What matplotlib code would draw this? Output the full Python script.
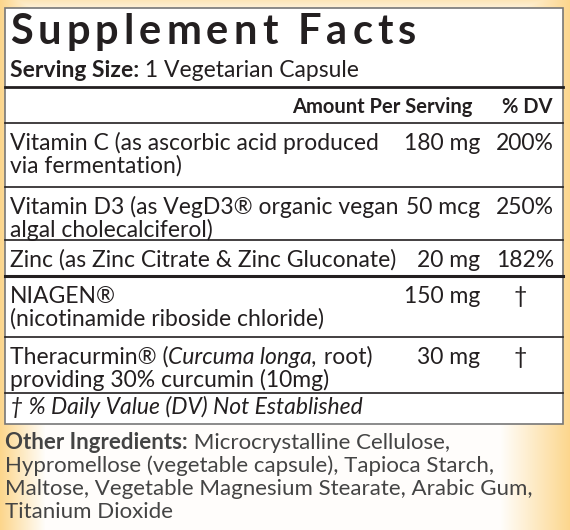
import numpy as np
import matplotlib.pyplot as plt

FONT = "Lato"
title = "Supplement Facts"
serving = [("Serving Size:", "bold"), (" 1 Vegetarian Capsule", "normal")]
nutrients = [
    ["Vitamin C (as ascorbic acid produced", "via fermentation)"],
    ["Vitamin D3 (as VegD3® organic vegan", "algal cholecalciferol)"],
    ["Zinc (as Zinc Citrate & Zinc Gluconate)"],
    ["NIAGEN®", "(nicotinamide riboside chloride)"],
    ["Theracurmin® (|Curcuma longa,| root)", "providing 30% curcumin (10mg)"],
]
amounts = ["180 mg", "50 mcg", "20 mg", "150 mg", "30 mg"]
dvs = ["200%", "250%", "182%", "†", "†"]
row_top = [123, 187, 240, 276, 337]
other = ["Microcrystalline Cellulose,",
         "Hypromellose (vegetable capsule), Tapioca Starch,",
         "Maltose, Vegetable Magnesium Stearate, Arabic Gum,",
         "Titanium Dioxide"]

fig = plt.figure(figsize=(5.7, 5.3), dpi=100)
ax = fig.add_axes([0, 0, 1, 1])
ax.set_xlim(0, 570)
ax.set_ylim(530, 0)
ax.axis("off")

# warm gradient background, strongest at the left and right edges
yy, xx = np.mgrid[0:530, 0:570]
d = np.minimum.reduce([xx / 45.0, (570 - xx) / 70.0, yy / 25.0 + 0.4])
d = np.clip(d, 0, 1)
edge = np.array([0.99, 0.84, 0.55])
mid = np.array([1.0, 0.995, 0.985])
img = edge * (1 - d[..., None]) + mid * d[..., None]
ax.imshow(img, extent=(0, 570, 530, 0), zorder=0, aspect="auto")

ax.add_patch(plt.Rectangle((5, 8), 558, 416, facecolor="white",
                           edgecolor="#777777", lw=1.2, zorder=1))

fig.canvas.draw()
r = fig.canvas.get_renderer()
inv = ax.transData.inverted()


def seg_text(x, y, segs, size, spacing=0.0, color="#231f20"):
    for s, style in segs:
        for piece in ([s] if spacing == 0 else list(s)):
            t = ax.text(x, y, piece, fontsize=size, family=FONT,
                        weight="bold" if style == "bold" else "normal",
                        style="italic" if style == "italic" else "normal",
                        va="baseline", ha="left", color=color, zorder=3)
            bb = t.get_window_extent(r)
            x = inv.transform((bb.x1, bb.y0))[0] + spacing
    return x


seg_text(10, 44, [(title, "bold")], 30, spacing=5)
seg_text(10, 77, serving, 16.5)
ax.plot([5, 563], [87, 87], color="#231f20", lw=2, zorder=2)
ax.text(472, 113, "Amount Per Serving", fontsize=14.5, family=FONT, weight="bold",
        ha="right", va="baseline", color="#231f20", zorder=3)
ax.text(553, 113, "% DV", fontsize=14.5, family=FONT, weight="bold",
        ha="right", va="baseline", color="#231f20", zorder=3)

for i, lines in enumerate(nutrients):
    top = row_top[i]
    ax.plot([5, 563], [top, top], color="#231f20", lw=1.2, zorder=2)
    for j, ln in enumerate(lines):
        parts = ln.split("|")
        segs = [(p, "italic" if k % 2 else "normal") for k, p in enumerate(parts)]
        seg_text(10, top + 27 + 23 * j, segs, 16.5)
    ax.text(480, top + 27, amounts[i], fontsize=16.5, family=FONT,
            ha="right", va="baseline", color="#231f20", zorder=3)
    ax.text(554 if dvs[i] != "†" else 527, top + 27, dvs[i], fontsize=16.5,
            family=FONT, ha="right", va="baseline", color="#231f20", zorder=3)
ax.plot([5, 563], [276, 276], color="#231f20", lw=2.2, zorder=2)
ax.plot([5, 563], [393, 393], color="#231f20", lw=1.2, zorder=2)
seg_text(10, 414, [("† % Daily Value (DV) Not Established", "italic")], 16.5)

y0 = 449
seg_text(5, y0, [("Other Ingredients:", "bold"), (" " + other[0], "normal")], 16,
         color="#444444")
for k, ln in enumerate(other[1:]):
    seg_text(5, y0 + 23 * (k + 1), [(ln, "normal")], 16, color="#444444")

fig.savefig("out.png", dpi=100)
